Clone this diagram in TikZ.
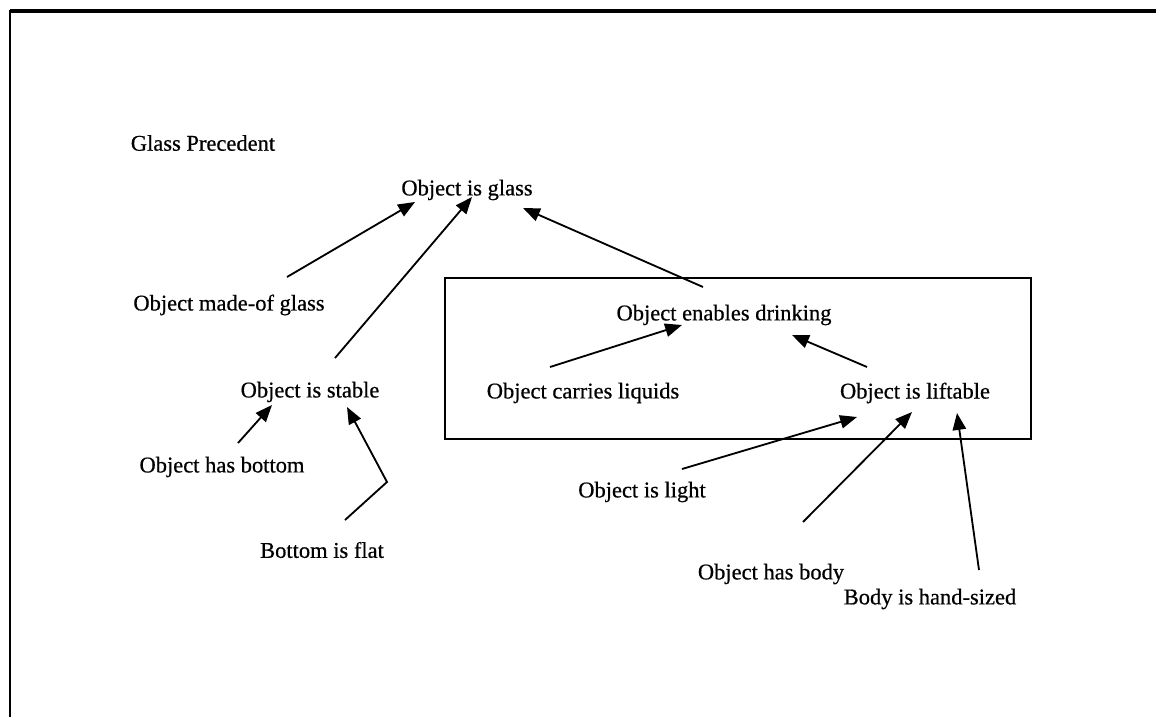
\documentclass[tikz,border=0pt]{standalone}
\usepackage{fontspec}
\setmainfont{Liberation Serif}
\newfontfamily\labelfont{Liberation Serif}[FakeBold=0.6]
\usetikzlibrary{calc,arrows.meta}
\begin{document}
\begin{tikzpicture}[x=0.025cm,y=-0.025cm,
  lbl/.style={inner sep=0pt,font=\labelfont\fontsize{16}{19}\selectfont},
  arr/.style={line width=1.3pt,-{Triangle[length=12pt,width=9.5pt]}},
  frame/.style={line width=1.8pt}]
\useasboundingbox (0,0) rectangle (1156,717);
% page frame (top and left edges)
\draw[line width=2.2pt] (1156,11) -- (10,11);
\draw[frame] (10,10) -- (10,717);
% title
\node[lbl] (prec)   at (203,143) {Glass Precedent};
% statements
\node[lbl] (glass)  at (467,190) {Object is glass};
\node[lbl] (made)   at (229,305) {Object made-of glass};
\node[lbl] (drink)  at (724,315) {Object enables drinking};
\node[lbl] (carry)  at (583,393) {Object carries liquids};
\node[lbl] (lift)   at (915,393) {Object is liftable};
\node[lbl] (stable) at (310,392) {Object is stable};
\node[lbl] (bottom) at (222,467) {Object has bottom};
\node[lbl] (flat)   at (322,550) {Bottom is flat};
\node[lbl] (light)  at (642,492) {Object is light};
\node[lbl] (body)   at (771,574) {Object has body};
\node[lbl] (hand)   at (930,599) {Body is hand-sized};
% grouping box around the drinking sub-tree
\draw[line width=1.3pt] (445,278) rectangle (1031,439);
% support links
\draw[arr] ($(made)+(58,-28)$) -- ($(glass)+(-52,12)$);
\draw[arr] ($(stable)+(25,-34)$) -- ($(glass)+(5,7)$);
\draw[arr] ($(drink)+(-21,-28)$) -- ($(glass)+(56,18)$);
\draw[arr] ($(carry)+(-33,-26)$) -- ($(drink)+(-42,10)$);
\draw[arr] ($(lift)+(-48,-26)$) -- ($(drink)+(68,20)$);
\draw[arr] ($(bottom)+(16,-24)$) -- ($(stable)+(-38,13)$);
\coordinate (bend) at (387,482);
\draw[arr] ($(flat)+(23,-30)$) -- (bend) -- ($(stable)+(37,15)$);
\draw[arr] ($(light)+(40,-23)$) -- ($(lift)+(-58,24)$);
\draw[arr] ($(body)+(32,-52)$) -- ($(lift)+(-3,19)$);
\draw[arr] ($(hand)+(49,-29)$) -- ($(lift)+(42,20)$);
\end{tikzpicture}
\end{document}
